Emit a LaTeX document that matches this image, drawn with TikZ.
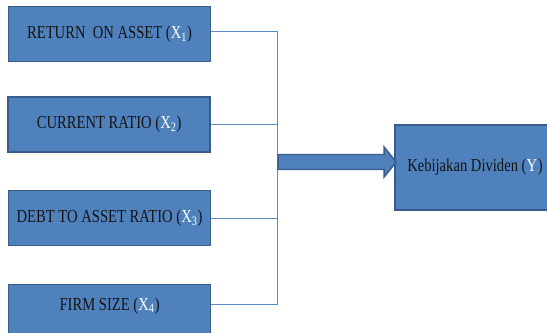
\documentclass[tikz,border=0pt]{standalone}
\usepackage{fontspec}
\setmainfont{Liberation Serif}[FakeStretch=0.8]
\usepackage{xcolor}
\usetikzlibrary{calc}
\definecolor{BoxBlue}{HTML}{4F81BD}
\definecolor{EdgeBlue}{HTML}{385D8A}
\definecolor{LineBlue}{HTML}{5B8AC6}
\definecolor{InkBlack}{HTML}{141414}
\newcommand{\xvar}[2]{(\textcolor{white}{#1\textsubscript{#2}})}

\begin{document}
\begin{tikzpicture}[
      box/.style={draw=EdgeBlue, line width=1.2pt, fill=BoxBlue, text=InkBlack,
                  minimum width=5.05cm, minimum height=1.37cm, align=center,
                  font=\fontsize{13}{15}\selectfont},
      link/.style={draw=LineBlue, line width=0.7pt},
      flowarrow/.style={draw=EdgeBlue, line width=1pt, fill=BoxBlue, line join=miter}]
      \useasboundingbox (0,0) rectangle (13.675,-8.325);

      % Independent variables
      \node[box] (roa) at (2.74,-0.85) {RETURN\ \ ON ASSET \xvar{X}{1}};
      \node[box] (cr)  at (2.73,-3.11) {CURRENT RATIO \xvar{X}{2}};
      \node[box] (dar) at (2.74,-5.45) {DEBT TO ASSET RATIO \xvar{X}{3}};
      \node[box, text depth=0.4cm] (fs) at (2.74,-7.8) {FIRM SIZE \xvar{X}{4}};

      % Dependent variable
      \node[box, minimum width=4cm, minimum height=2.12cm] (kd) at (11.875,-4.19) {Kebijakan Dividen \xvar{Y}{}};

      % Collecting line
      \coordinate (bus) at (6.925,0);
      \draw[link] ([yshift=2pt]roa.east) -- ([yshift=2pt]roa.east -| bus);
      \draw[link] (cr.east)  -- (cr.east -| bus);
      \draw[link] (dar.east) -- (dar.east -| bus);
      \draw[link] ([yshift=5pt]fs.east) -- ([yshift=5pt]fs.east -| bus);
      \draw[link] ([yshift=2pt]roa.east -| bus) -- ([yshift=5pt]fs.east -| bus);

      % Big arrow
      \coordinate (tip) at ($(kd.west)+(0.05,0.14)$);
      \coordinate (tail) at ($(tip -| bus)+(0.03,0)$);
      \draw[flowarrow] ($(tail)+(0,0.1875)$) -- ($(tip)+(-0.3,0.1875)$) -- ($(tip)+(-0.3,0.375)$)
            -- (tip) -- ($(tip)+(-0.3,-0.375)$) -- ($(tip)+(-0.3,-0.1875)$) -- ($(tail)+(0,-0.1875)$) -- cycle;
    \end{tikzpicture}
\end{document}
